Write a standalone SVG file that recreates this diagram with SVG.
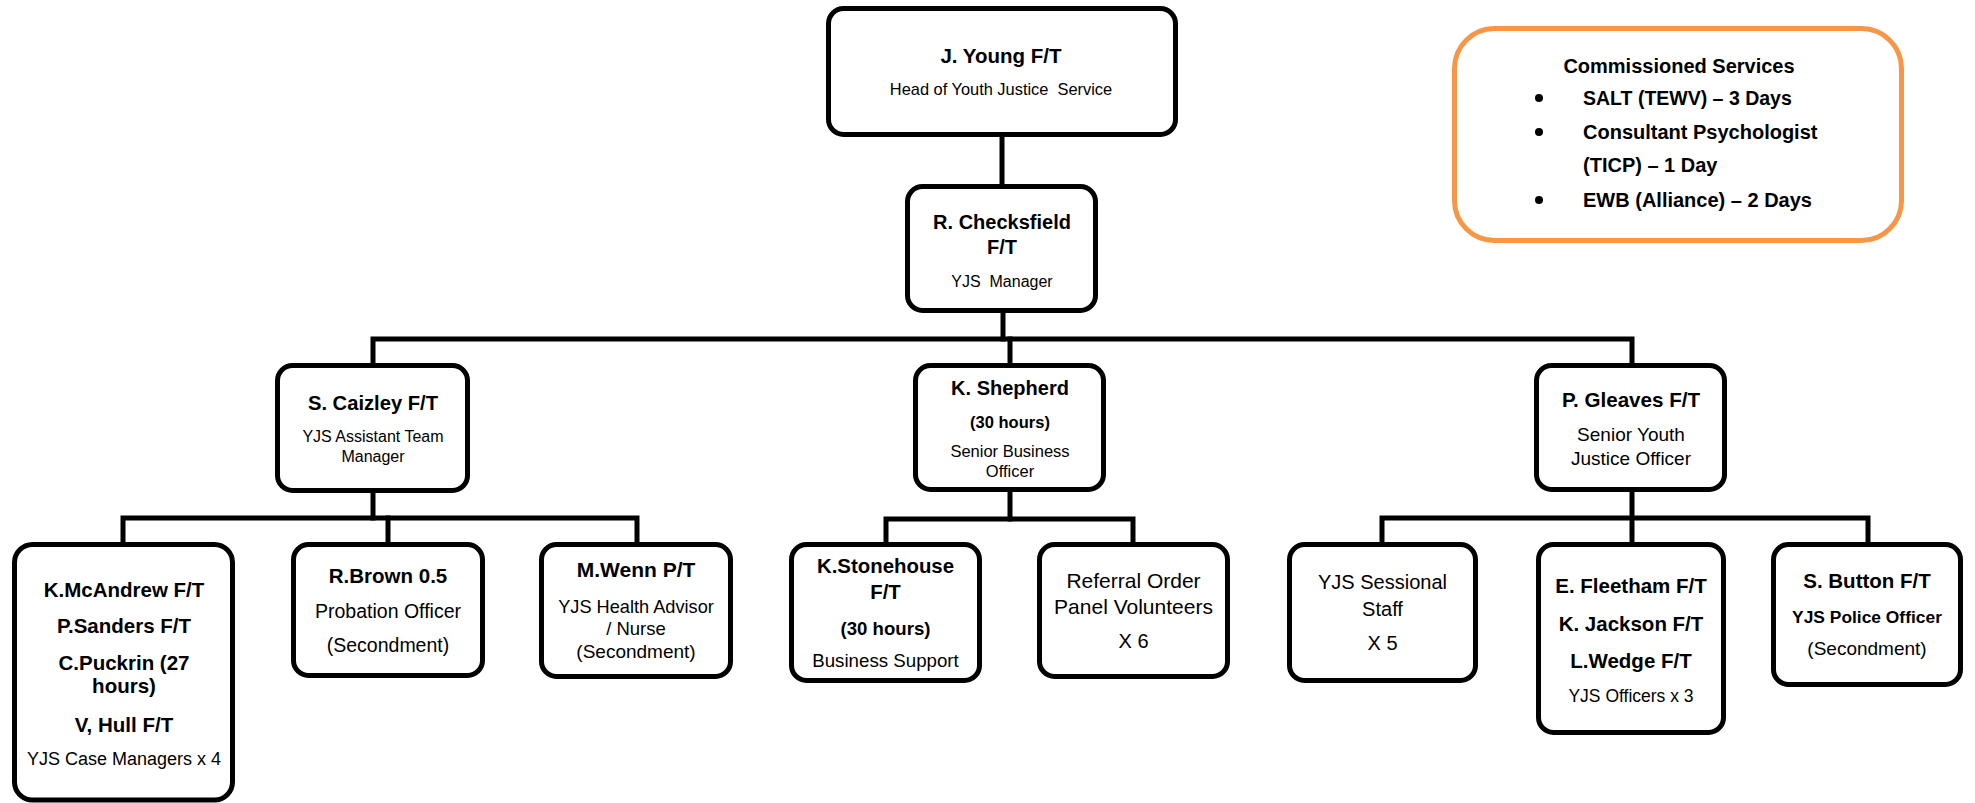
<svg xmlns="http://www.w3.org/2000/svg" width="1975" height="803" viewBox="0 0 1975 803">
<style>
.box{fill:#fff;stroke:#000;stroke-width:5}
.svc{fill:#fff;stroke:#F79646;stroke-width:5}
.ln{fill:none;stroke:#000;stroke-width:5;stroke-linejoin:miter;stroke-linecap:square}
text{font-family:"Liberation Sans",Arial,sans-serif;fill:#000;text-anchor:middle}
.b{font-weight:bold}
.l{text-anchor:start}
</style>
<rect width="1975" height="803" fill="#fff"/>
<g id="connectors">
<path class="ln" d="M1002,136 V186"/>
<path class="ln" d="M1003,312 V339"/>
<path class="ln" d="M373,365 V339 H1632 V365"/>
<path class="ln" d="M1010,339 V365"/>
<path class="ln" d="M373,491 V518"/>
<path class="ln" d="M123,544 V518 H637 V544"/>
<path class="ln" d="M388,518 V544"/>
<path class="ln" d="M1010,490 V519"/>
<path class="ln" d="M886,544 V519 H1133 V544"/>
<path class="ln" d="M1632,490 V544"/>
<path class="ln" d="M1382,544 V518 H1868 V544"/>
</g>
<g id="jyoung">
<rect class="box" x="828.5" y="8.5" width="347" height="126" rx="15"/>
<text class="b" x="1001" y="63" font-size="20.5">J. Young F/T</text>
<text x="1001" y="95" font-size="16.4" xml:space="preserve">Head of Youth Justice  Service</text>
</g>
<g id="checksfield">
<rect class="box" x="907.5" y="186.5" width="188" height="124" rx="15"/>
<text class="b" x="1002" y="229" font-size="20">R. Checksfield</text>
<text class="b" x="1002" y="254" font-size="20">F/T</text>
<text x="1002" y="287" font-size="16" xml:space="preserve">YJS  Manager</text>
</g>
<g id="commissioned">
<rect class="svc" x="1454.5" y="28.5" width="447" height="212" rx="40"/>
<text class="b" x="1679" y="73" font-size="20">Commissioned Services</text>
<circle cx="1539" cy="98" r="4"/>
<circle cx="1539" cy="132" r="4"/>
<circle cx="1539" cy="200" r="4"/>
<text class="b l" x="1583" y="105" font-size="19.5">SALT (TEWV) – 3 Days</text>
<text class="b l" x="1583" y="139" font-size="20">Consultant Psychologist</text>
<text class="b l" x="1583" y="172" font-size="20">(TICP) – 1 Day</text>
<text class="b l" x="1583" y="207" font-size="20">EWB (Alliance) – 2 Days</text>
</g>
<g id="caizley">
<rect class="box" x="277.5" y="365.5" width="190" height="125" rx="15"/>
<text class="b" x="373" y="410" font-size="20.2">S. Caizley F/T</text>
<text x="373" y="442" font-size="16">YJS Assistant Team</text>
<text x="373" y="462" font-size="16">Manager</text>
</g>
<g id="shepherd">
<rect class="box" x="915.5" y="365.5" width="188" height="124" rx="15"/>
<text class="b" x="1010" y="395" font-size="20">K. Shepherd</text>
<text class="b" x="1010" y="428" font-size="16.5">(30 hours)</text>
<text x="1010" y="457" font-size="16.5">Senior Business</text>
<text x="1010" y="477" font-size="16.5">Officer</text>
</g>
<g id="gleaves">
<rect class="box" x="1536.5" y="365.5" width="188" height="124" rx="15"/>
<text class="b" x="1631" y="407" font-size="20.6">P. Gleaves F/T</text>
<text x="1631" y="441" font-size="19">Senior Youth</text>
<text x="1631" y="465" font-size="19">Justice Officer</text>
</g>
<g id="casemanagers">
<rect class="box" x="14.5" y="544.5" width="218" height="255.5" rx="18"/>
<text class="b" x="124" y="597" font-size="20.5">K.McAndrew F/T</text>
<text class="b" x="124" y="633" font-size="20.5">P.Sanders F/T</text>
<text class="b" x="124" y="670" font-size="20.5">C.Puckrin (27</text>
<text class="b" x="124" y="693" font-size="20.5">hours)</text>
<text class="b" x="124" y="732" font-size="20.5">V, Hull F/T</text>
<text x="124" y="765" font-size="18">YJS Case Managers x 4</text>
</g>
<g id="rbrown">
<rect class="box" x="293.5" y="544.5" width="189" height="131" rx="15"/>
<text class="b" x="388" y="583" font-size="20.5">R.Brown 0.5</text>
<text x="388" y="618" font-size="19.5">Probation Officer</text>
<text x="388" y="652" font-size="19.5">(Secondment)</text>
</g>
<g id="mwenn">
<rect class="box" x="541.5" y="544.5" width="189" height="132" rx="15"/>
<text class="b" x="636" y="577" font-size="21">M.Wenn P/T</text>
<text x="636" y="613" font-size="18.2">YJS Health Advisor</text>
<text x="636" y="635" font-size="18.5">/ Nurse</text>
<text x="636" y="658" font-size="19">(Secondment)</text>
</g>
<g id="stonehouse">
<rect class="box" x="791.5" y="544.5" width="188" height="136" rx="15"/>
<text class="b" x="885.5" y="573" font-size="20.4">K.Stonehouse</text>
<text class="b" x="885.5" y="599" font-size="20.4">F/T</text>
<text class="b" x="885.5" y="635" font-size="18.6">(30 hours)</text>
<text x="885.5" y="667" font-size="18.7">Business Support</text>
</g>
<g id="referral">
<rect class="box" x="1039.5" y="544.5" width="188" height="132" rx="15"/>
<text x="1133.5" y="588" font-size="21">Referral Order</text>
<text x="1133.5" y="614" font-size="21">Panel Volunteers</text>
<text x="1133.5" y="648" font-size="20">X 6</text>
</g>
<g id="sessional">
<rect class="box" x="1289.5" y="544.5" width="186" height="136" rx="15"/>
<text x="1382.5" y="589" font-size="20">YJS Sessional</text>
<text x="1382.5" y="616" font-size="20">Staff</text>
<text x="1382.5" y="650" font-size="20">X 5</text>
</g>
<g id="officers">
<rect class="box" x="1538.5" y="544.5" width="185" height="188" rx="15"/>
<text class="b" x="1631" y="593" font-size="20.5">E. Fleetham F/T</text>
<text class="b" x="1631" y="631" font-size="20.5">K. Jackson F/T</text>
<text class="b" x="1631" y="668" font-size="20.5">L.Wedge F/T</text>
<text x="1631" y="702" font-size="17.5">YJS Officers x 3</text>
</g>
<g id="button">
<rect class="box" x="1773.5" y="544.5" width="187" height="140" rx="15"/>
<text class="b" x="1867" y="588" font-size="20.5">S. Button F/T</text>
<text class="b" x="1867" y="623" font-size="17.4">YJS Police Officer</text>
<text x="1867" y="655" font-size="19">(Secondment)</text>
</g>
</svg>
